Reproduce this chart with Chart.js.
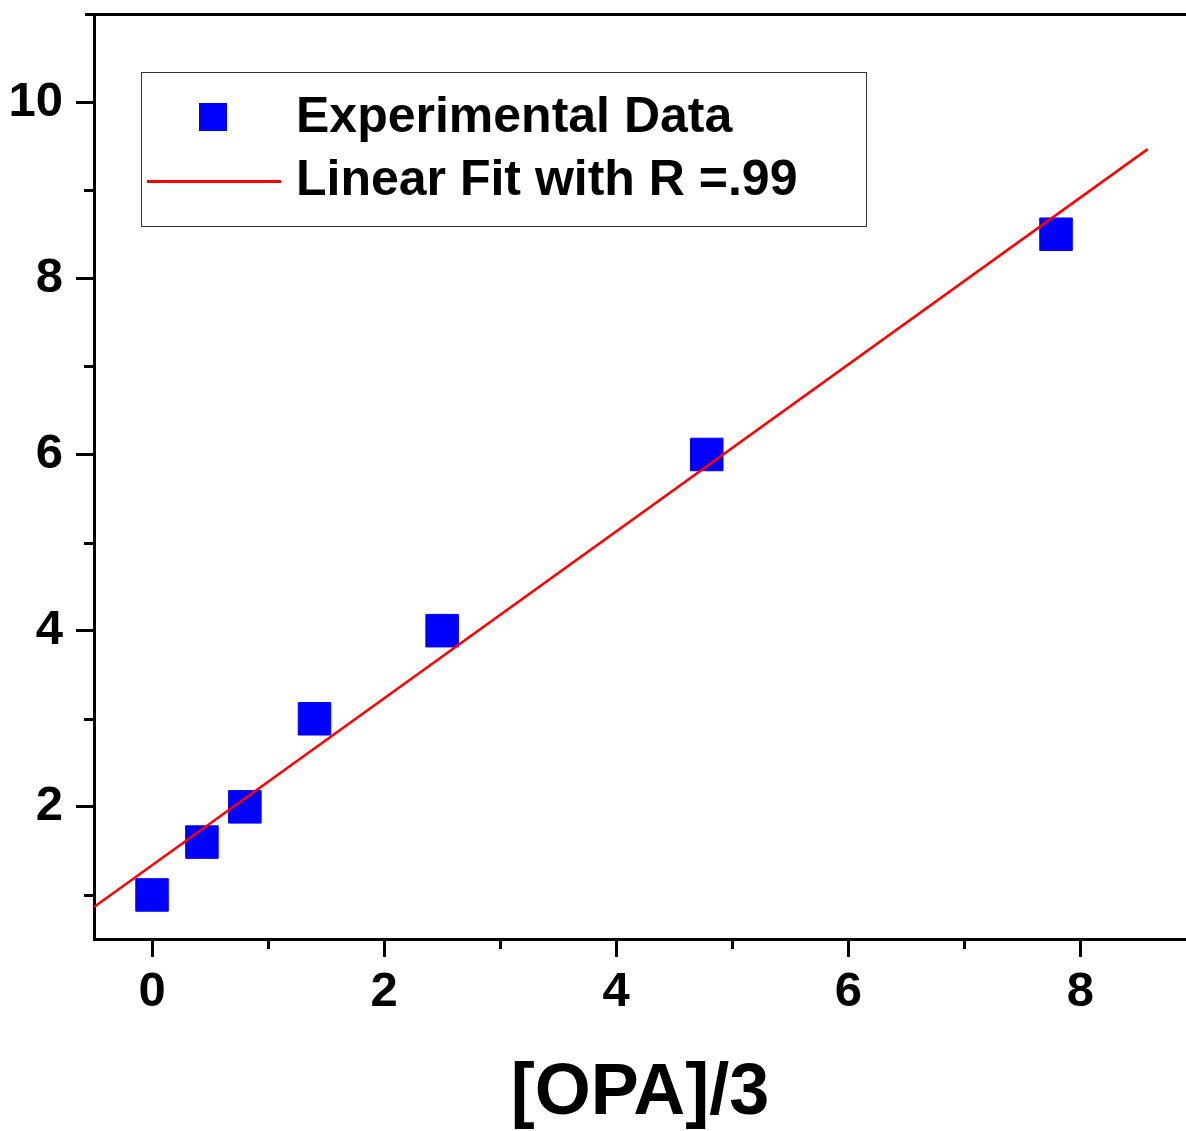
<!DOCTYPE html>
<html>
<head>
<meta charset="utf-8">
<script src="https://cdn.jsdelivr.net/npm/chart.js@4.4.1/dist/chart.umd.min.js"></script>
<style>
html,body{margin:0;padding:0;background:#fff;}
#wrap{position:relative;width:1186px;height:1131px;}
#legend{position:absolute;left:141px;top:72px;width:726px;height:155px;border:1px solid #333;background:#fff;box-sizing:border-box;font-family:"Liberation Sans",Arial,sans-serif;font-weight:bold;font-size:50px;line-height:51px;color:#000;}
#legend .txt{position:absolute;left:154px;white-space:nowrap;}
#legend .mk{position:absolute;}
</style>
</head>
<body>
<div id="wrap">
<canvas id="c" width="1186" height="1131"></canvas>
<div id="legend"></div>
</div>
<script>
// ---- data ----
const expX = [0, 0.43, 0.8, 1.4, 2.5, 4.78, 7.79];
const expY = [1, 1.6, 2, 3, 4, 6, 8.5];
const fitX = [-0.5, 8.58];
const fitY = [0.864, 9.466];
const xMajorTicks = [0, 2, 4, 6, 8];
const xMinorTicks = [1, 3, 5, 7];
const yMajorTicks = [2, 4, 6, 8, 10];
const yMinorTicks = [1, 3, 5, 7, 9];
const seriesLabels = ['Experimental Data', 'Linear Fit with R =.99'];
const xTitle = '[OPA]/3';

const FONT = '"Liberation Sans", Arial, sans-serif';

const frameAndMinor = {
  id: 'frameAndMinor',
  afterDraw(chart) {
    const ctx = chart.ctx, a = chart.chartArea;
    const xs = chart.scales.x, ys = chart.scales.y;
    ctx.save();
    ctx.strokeStyle = '#000';
    ctx.lineWidth = 3;
    xMinorTicks.forEach(v => {
      const px = Math.round(xs.getPixelForValue(v)) + 0.5;
      ctx.beginPath(); ctx.moveTo(px, a.bottom); ctx.lineTo(px, a.bottom + 10); ctx.stroke();
    });
    yMinorTicks.forEach(v => {
      const py = Math.round(ys.getPixelForValue(v)) + 0.5;
      ctx.beginPath(); ctx.moveTo(a.left, py); ctx.lineTo(a.left - 10, py); ctx.stroke();
    });
    ctx.beginPath(); ctx.moveTo(a.left - 9, a.top + 0.5); ctx.lineTo(a.right, a.top + 0.5); ctx.stroke();
    ctx.restore();
  }
};

const htmlLegend = {
  id: 'htmlLegend',
  afterUpdate(chart) {
    const box = document.getElementById('legend');
    box.innerHTML = '';
    const ds = chart.data.datasets;
    const m = document.createElement('div');
    m.className = 'mk';
    m.style.cssText = 'left:57px;top:30px;width:28px;height:28px;background:' + ds[0].backgroundColor + ';';
    box.appendChild(m);
    const t1 = document.createElement('div');
    t1.className = 'txt'; t1.style.top = '17px'; t1.textContent = ds[0].label;
    box.appendChild(t1);
    const l = document.createElement('div');
    l.className = 'mk';
    l.style.cssText = 'left:5px;top:107px;width:134px;height:2.5px;background:' + ds[1].borderColor + ';';
    box.appendChild(l);
    const t2 = document.createElement('div');
    t2.className = 'txt'; t2.style.top = '80px'; t2.textContent = ds[1].label;
    box.appendChild(t2);
  }
};

new Chart(document.getElementById('c'), {
  type: 'scatter',
  data: {
    datasets: [
      {
        label: seriesLabels[0],
        data: expX.map((x, i) => ({x: x, y: expY[i]})),
        pointStyle: 'rect',
        pointRadius: 23,
        pointHoverRadius: 23,
        backgroundColor: '#0000FF',
        borderColor: '#0000FF',
        borderWidth: 1,
        showLine: false,
        order: 2
      },
      {
        label: seriesLabels[1],
        data: fitX.map((x, i) => ({x: x, y: fitY[i]})),
        showLine: true,
        pointRadius: 0,
        borderColor: '#FF0000',
        backgroundColor: '#FF0000',
        borderWidth: 2.5,
        order: 1
      }
    ]
  },
  options: {
    responsive: false,
    animation: false,
    devicePixelRatio: 1,
    layout: { autoPadding: false, padding: { top: 14, left: 0, right: 0, bottom: 0 } },
    plugins: { legend: { display: false }, tooltip: { enabled: false } },
    scales: {
      x: {
        type: 'linear', position: 'bottom', min: -0.5, max: 8.91,
        afterBuildTicks: s => { s.ticks = xMajorTicks.map(v => ({value: v})); },
        afterFit: s => { s.height = 192; s.paddingLeft = 0; s.paddingRight = 0; },
        grid: { drawOnChartArea: false, drawTicks: true, tickLength: 18, tickWidth: 3, tickColor: '#000' },
        border: { display: true, color: '#000', width: 3 },
        ticks: { color: '#000', padding: 6, maxRotation: 0, font: { family: FONT, weight: 'bold', size: 49 }, callback: v => String(v) },
        title: { display: true, text: xTitle, color: '#000', font: { family: FONT, weight: 'bold', size: 72, lineHeight: 1 }, padding: { top: 0, bottom: 1 } }
      },
      y: {
        type: 'linear', position: 'left', min: 0.5, max: 11,
        afterBuildTicks: s => { s.ticks = yMajorTicks.map(v => ({value: v})); },
        afterFit: s => { s.width = 94; s.paddingTop = 0; s.paddingBottom = 0; },
        grid: { drawOnChartArea: false, drawTicks: true, tickLength: 18, tickWidth: 3, tickColor: '#000' },
        border: { display: true, color: '#000', width: 3 },
        ticks: { color: '#000', padding: 13, font: { family: FONT, weight: 'bold', size: 49 }, callback: v => String(v) }
      }
    }
  },
  plugins: [frameAndMinor, htmlLegend]
});
</script>
</body>
</html>
